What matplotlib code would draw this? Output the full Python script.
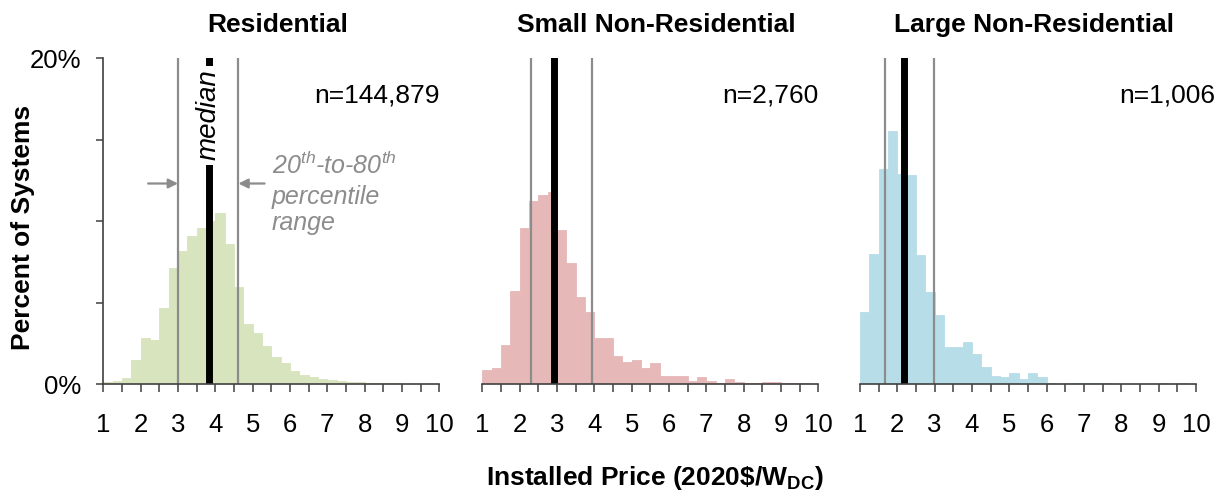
import numpy as np
import matplotlib
matplotlib.use("Agg")
import matplotlib.pyplot as plt

plt.rcParams['font.family'] = ['Liberation Sans', 'DejaVu Sans']
plt.rcParams['mathtext.fontset'] = 'custom'
plt.rcParams['mathtext.rm'] = 'Liberation Sans'
plt.rcParams['mathtext.it'] = 'Liberation Sans:italic'
plt.rcParams['mathtext.bf'] = 'Liberation Sans:bold'

# ---------------- data ----------------
titles = ["Residential", "Small Non-Residential", "Large Non-Residential"]
counts = ["n=144,879", "n=2,760", "n=1,006"]
bin_width = 0.25
bin_left = np.arange(1.0, 10.0, bin_width)   # 36 bins, 1.00 ... 9.75

residential = [0.14, 0.20, 0.37, 1.45, 2.80, 2.72, 4.68, 7.14, 8.14, 9.10,
               9.57, 10.00, 10.50, 8.59, 5.95, 3.68, 3.10, 2.33, 1.64, 1.31,
               0.82, 0.57, 0.45, 0.31, 0.25, 0.20, 0.14, 0.12, 0.08, 0.08,
               0.06, 0.05, 0.03, 0.02, 0.02, 0.01]
small_nonres = [0.86, 1.00, 2.39, 5.70, 9.55, 11.25, 11.60, 11.80, 9.47, 7.42,
                5.32, 4.44, 2.80, 2.80, 1.70, 1.37, 1.47, 0.98, 1.29, 0.51,
                0.51, 0.51, 0.20, 0.43, 0.20, 0.06, 0.29, 0.12, 0.06, 0.06,
                0.12, 0.12, 0.06, 0.06, 0.06, 0.00]
large_nonres = [4.44, 7.98, 13.20, 15.50, 12.90, 12.80, 7.90, 5.62, 4.21, 2.25,
                2.25, 2.58, 1.84, 1.04, 0.51, 0.43, 0.67, 0.29, 0.67, 0.43,
                0.06, 0.00, 0.06, 0.06, 0.06, 0.06, 0.06, 0.00, 0.00, 0.00,
                0.00, 0.00, 0.06, 0.00, 0.06, 0.00]
series = [residential, small_nonres, large_nonres]

p20 = [3.0, 2.3, 1.68]
median = [3.82, 2.93, 2.18]
p80 = [4.62, 3.93, 2.98]

colors = ["#D7E4BD", "#E6B9B8", "#B7DEE8"]
x_ticks = np.arange(1, 10.01, 0.5)
x_labels = [str(int(t)) if float(t).is_integer() else "" for t in x_ticks]

# ---------------- figure ----------------
W, H = 1218, 493
fig = plt.figure(figsize=(W / 100, H / 100), dpi=100)

lefts_px = [103.3, 482.3, 860.0]
ax_w_px = 336.0
top_px, bot_px = 58.0, 384.0
title_dx_px = [6, 6, 6]
n_right_px = [440, 818, 1215]

gray = "#8c8c8c"
spine_col = "#404040"

for i in range(3):
    ax = fig.add_axes([lefts_px[i] / W, 1 - bot_px / H, ax_w_px / W, (bot_px - top_px) / H])
    ax.bar(bin_left, series[i], width=bin_width, align='edge', color=colors[i],
           edgecolor=colors[i], linewidth=0.6, zorder=1)
    ax.set_xlim(1, 10)
    ax.set_ylim(0, 20)

    ax.axvline(p20[i], color=gray, lw=1.6, zorder=2)
    ax.axvline(p80[i], color=gray, lw=1.6, zorder=2)
    ax.axvline(median[i], color='black', lw=5, zorder=3)

    for s in ['top', 'right']:
        ax.spines[s].set_visible(False)
    ax.spines['bottom'].set_color(spine_col)
    ax.spines['bottom'].set_linewidth(1.2)
    ax.spines['bottom'].set_zorder(4)
    ax.set_xticks(x_ticks)
    ax.set_xticklabels(x_labels)
    ax.tick_params(axis='x', direction='out', length=6, width=1.1, color=spine_col,
                   labelsize=18.5, pad=15)

    if i == 0:
        ax.spines['left'].set_color(spine_col)
        ax.spines['left'].set_linewidth(1.2)
        ax.set_yticks([0, 5, 10, 15, 20])
        ax.set_yticklabels(["0%", "", "", "", "20%"])
        ax.tick_params(axis='y', direction='out', length=5, width=1.1, color=spine_col,
                       labelsize=18.5, pad=11)
    else:
        ax.spines['left'].set_visible(False)
        ax.set_yticks([])

    # title
    ax.text(0.5 + title_dx_px[i] / ax_w_px, 1 + (top_px - 25) / (bot_px - top_px), titles[i],
            transform=ax.transAxes, ha='center', va='center', fontsize=19, fontweight='bold')
    # n= label
    n_x = 1 + (n_right_px[i] - lefts_px[i]) / ax_w_px * 9
    ax.text(n_x, 17.7, counts[i], ha='right', va='center', fontsize=19, clip_on=False)

    if i == 0:
        ax.text(median[i], 16.5, "median", rotation=90, ha='center', va='center',
                fontsize=20, style='italic', zorder=5,
                bbox=dict(facecolor='white', edgecolor='none', pad=3))
        ax.annotate('', xy=(p20[i], 12.3), xytext=(2.2, 12.3),
                    arrowprops=dict(arrowstyle='-|>', color=gray, lw=1.6, mutation_scale=14,
                                    shrinkA=0, shrinkB=0))
        ax.annotate('', xy=(p80[i], 12.3), xytext=(5.32, 12.3),
                    arrowprops=dict(arrowstyle='-|>', color=gray, lw=1.6, mutation_scale=14,
                                    shrinkA=0, shrinkB=0))
        ax.text(5.51, 12.88, r"20$^{\mathit{th}}$-to-80$^{\mathit{th}}$", color=gray,
                style='italic', fontsize=18, ha='left', va='baseline')
        ax.text(5.51, 11.04, "percentile", color=gray, style='italic', fontsize=18,
                ha='left', va='baseline')
        ax.text(5.51, 9.45, "range", color=gray, style='italic', fontsize=18,
                ha='left', va='baseline')

fig.text(23 / W, 1 - 227 / H, "Percent of Systems", rotation=90, ha='center', va='center',
         fontsize=19, fontweight='bold')
fig.text(655 / W, 1 - 478 / H, r"Installed Price (2020\$/W$_{\mathbf{DC}}$)", ha='center',
         va='center', fontsize=19, fontweight='bold')

fig.savefig("out.png", dpi=100)
